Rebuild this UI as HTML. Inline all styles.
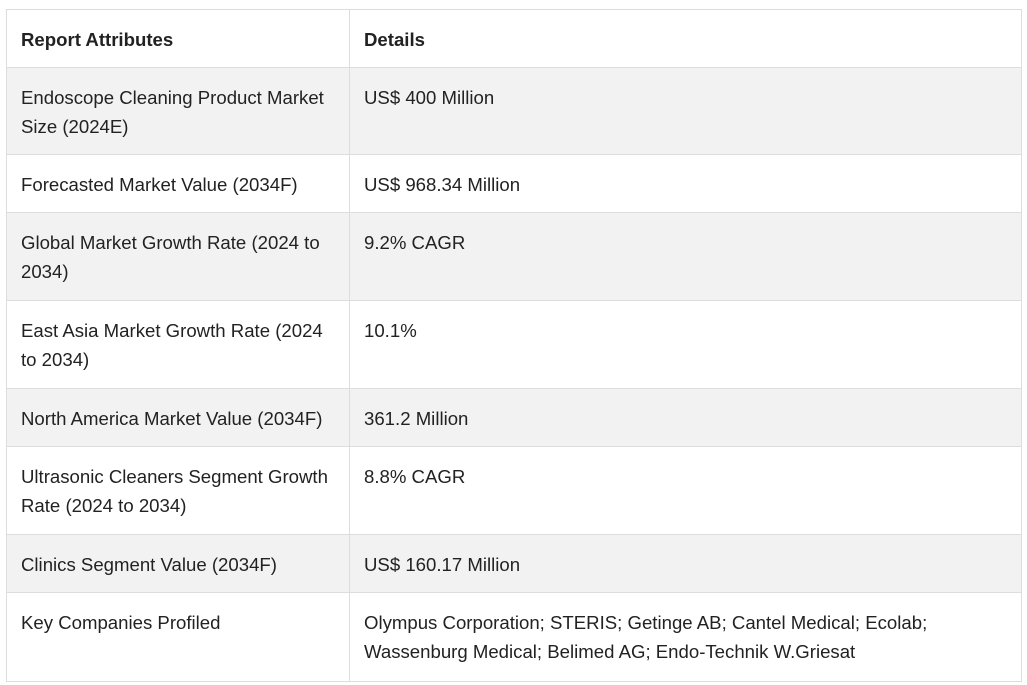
<!DOCTYPE html>
<html><head><meta charset="utf-8"><style>
body{margin:0;background:#fff;width:1027px;height:685px;overflow:hidden;font-family:"Liberation Sans",sans-serif;color:#222}
table{position:absolute;left:6px;top:9px;width:1016px;border-collapse:collapse;table-layout:fixed}
td,th{border:1px solid #ddd;font-size:18.6px;line-height:29px;padding:0 14px;vertical-align:top;text-align:left;white-space:nowrap}
th{font-weight:bold}
.c1{width:314px}
tr.g td{background:#f2f2f2}
td>div,th>div{padding-top:15px}
</style></head><body>
<table>
<tr style="height:58px"><th class="c1"><div>Report Attributes</div></th><th><div>Details</div></th></tr>
<tr class="g" style="height:87px"><td><div>Endoscope Cleaning Product Market<br>Size (2024E)</div></td><td><div>US$ 400 Million</div></td></tr>
<tr style="height:58px"><td><div>Forecasted Market Value (2034F)</div></td><td><div>US$ 968.34 Million</div></td></tr>
<tr class="g" style="height:88px"><td><div>Global Market Growth Rate (2024 to<br>2034)</div></td><td><div>9.2% CAGR</div></td></tr>
<tr style="height:88px"><td><div>East Asia Market Growth Rate (2024<br>to 2034)</div></td><td><div>10.1%</div></td></tr>
<tr class="g" style="height:58px"><td><div>North America Market Value (2034F)</div></td><td><div>361.2 Million</div></td></tr>
<tr style="height:88px"><td><div>Ultrasonic Cleaners Segment Growth<br>Rate (2024 to 2034)</div></td><td><div>8.8% CAGR</div></td></tr>
<tr class="g" style="height:58px"><td><div>Clinics Segment Value (2034F)</div></td><td><div>US$ 160.17 Million</div></td></tr>
<tr style="height:89px"><td><div>Key Companies Profiled</div></td><td><div>Olympus Corporation; STERIS; Getinge AB; Cantel Medical; Ecolab;<br>Wassenburg Medical; Belimed AG; Endo-Technik W.Griesat</div></td></tr>
</table>
</body></html>
